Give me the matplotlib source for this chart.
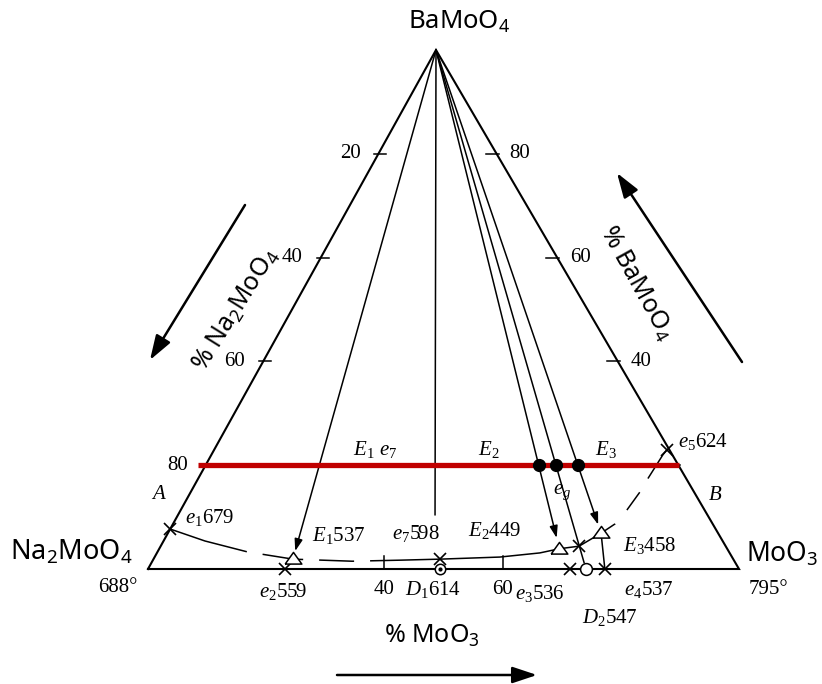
import numpy as np
import matplotlib.pyplot as plt

plt.rcParams['font.family'] = ['Noto Sans', 'DejaVu Sans']
plt.rcParams['mathtext.fontset'] = 'custom'
plt.rcParams['mathtext.rm'] = 'Liberation Serif'
plt.rcParams['mathtext.it'] = 'Liberation Serif:italic'
plt.rcParams['mathtext.default'] = 'regular'
plt.rcParams['lines.scale_dashes'] = False

# compositions: mol % MoO3 and mol % BaMoO4 (the rest is Na2MoO4)
# binary eutectics e1..e5, e7 and e8 (printed as e_g)
eut_sub = ['1', '2', '3', '4', '5', '7', 'g']
eut_mo = [0.0, 23.2, 71.4, 77.3, 76.6, 48.5, 70.8]
eut_ba = [7.7, 0.0, 0.0, 0.0, 22.9, 1.9, 4.4]
eut_temp = ['679', '559', '536', '537', '624', '598', '']

# ternary eutectics E1..E3
tern_sub = ['1', '2', '3']
tern_mo = [23.6, 67.7, 73.3]
tern_ba = [1.9, 3.9, 6.9]
tern_temp = ['537', '449', '458']

# compounds D1, D2 on the Na2MoO4-MoO3 side
comp_sub = ['1', '2']
comp_mo = [49.4, 74.1]
comp_temp = ['614', '547']

# valley e1 -> E1 -> e7 -> E2 -> e8 -> E3
valley_mo = [0.0, 7.0, 15.2, 23.6, 33.8, 41.8, 48.5, 58.4, 64.8, 67.7, 70.8, 73.3]
valley_ba = [7.7, 5.4, 3.3, 1.9, 1.5, 1.7, 1.9, 2.3, 3.1, 3.9, 4.4, 6.9]
# branch E3 -> e5
branch_mo = [73.3, 74.8, 75.5, 76.0, 76.1, 76.4, 76.6]
branch_ba = [6.9, 8.7, 11.4, 14.8, 17.5, 22.0, 22.9]

# BaMoO4-D1 join, drawn down to this point only
join_end_mo, join_end_ba = 43.5, 10.4

ba_ticks = [20, 40, 60, 80]
mo_ticks = [40, 60]
section_ba = 20  # red isopleth

melt_na = '688°'
melt_mo = '795°'

# corners of the triangle on the page (pixels)
corner_na = (148, 569)
corner_mo = (739, 569)
corner_ba = (436, 50)


def to_xy(mo, ba):
    mo = np.asarray(mo, float) / 100
    ba = np.asarray(ba, float) / 100
    na = 1 - mo - ba
    x = na * corner_na[0] + mo * corner_mo[0] + ba * corner_ba[0]
    y = na * corner_na[1] + mo * corner_mo[1] + ba * corner_ba[1]
    return x, y


fig = plt.figure(figsize=(8.22, 6.84), dpi=100)
ax = fig.add_axes([0, 0, 1, 1])
ax.set_xlim(0, 822)
ax.set_ylim(684, 0)
ax.axis('off')

serif = dict(family='Liberation Serif', fontsize=15, color='black')

# triangle
tx, ty = to_xy([0, 100, 0, 0], [0, 0, 100, 0])
ax.plot(tx, ty, color='black', lw=1.5, solid_joinstyle='miter', zorder=2)

# side ticks
for b in ba_ticks:
    lx, ly = to_xy(0, b)
    rx, ry = to_xy(100 - b, b)
    ax.plot([lx - 4, lx + 8], [ly, ly], color='black', lw=1.1)
    ax.plot([rx - 11, rx + 2], [ry, ry], color='black', lw=1.1)
    ax.text(lx - 18, ly, str(100 - b), ha='right', va='center', **serif)
    if b > section_ba:
        ax.text(rx + 13, ry, str(b), ha='left', va='center', **serif)

# bottom ticks
for m in mo_ticks:
    bx, by = to_xy(m, 0)
    ax.plot([bx, bx], [by, by - 13], color='black', lw=1.1)
    ax.text(bx, by + 21, str(m), ha='center', va='center', **serif)

# joins from the BaMoO4 corner
apex = tuple(to_xy(0, 100))


def join(mo, ba, arrow, shrink):
    style = '-|>,head_length=0.6,head_width=0.2' if arrow else '-'
    ax.annotate('', xy=tuple(to_xy(mo, ba)), xytext=apex,
                arrowprops=dict(arrowstyle=style, color='black', lw=1.1,
                                shrinkA=0, shrinkB=shrink, mutation_scale=12))


join(tern_mo[0], tern_ba[0], True, 6)
join(join_end_mo, join_end_ba, False, 0)
join(tern_mo[1], tern_ba[1], True, 8)
join(comp_mo[1], 0, False, 4.5)
join(tern_mo[2], tern_ba[2], True, 6.5)
ex3, ey3 = to_xy([tern_mo[2], eut_mo[3]], [tern_ba[2], eut_ba[3]])
ax.plot(ex3, ey3, color='black', lw=1.1)

# boundary curves
vx, vy = to_xy(valley_mo, valley_ba)
ax.plot(vx, vy, color='black', lw=1.1,
        dashes=(57.6, 11.5, 29.5, 11.5, 25.2, 11.5, 2000, 1))
bx, by = to_xy(branch_mo, branch_ba)
ax.plot(bx, by, color='black', lw=1.1, dashes=(12.2, 13, 15.8, 11.5, 72, 1))

# red section line
rlx, rly = to_xy(0, section_ba)
rrx, rry = to_xy(100 - section_ba, section_ba)
ax.plot([rlx - 8, rrx + 1], [rly, rry], color='#c00000', lw=3.8,
        solid_capstyle='butt', zorder=4)

# crossings of the joins with the section
cross_mo = []
for m, b in [(tern_mo[1], tern_ba[1]), (comp_mo[1], 0), (tern_mo[2], tern_ba[2])]:
    cross_mo.append(m * (100 - section_ba) / (100 - b))
sx, sy = to_xy(cross_mo, [section_ba] * 3)
ax.plot(sx, sy, ls='none', marker='o', ms=8.5, color='black', zorder=6)

# markers
ex, ey = to_xy(eut_mo, eut_ba)
ax.plot(ex, ey, ls='none', marker='x', ms=8.5, mew=1.2, color='black', zorder=5)
tri = [(-1, -0.55), (1, -0.55), (0, 0.85), (-1, -0.55)]
qx, qy = to_xy(tern_mo, tern_ba)
ax.plot(qx, qy, ls='none', marker=tri, ms=12, mfc='white', mec='black',
        mew=1.1, zorder=5)
cx, cy = to_xy(comp_mo, [0, 0])
ax.plot(cx[0], cy[0], marker='o', ms=7.5, mfc='white', mec='black', mew=1.1, zorder=5)
ax.plot(cx[0], cy[0], marker='o', ms=2, color='black', zorder=6)
ax.plot(cx[1], cy[1], marker='o', ms=8.5, mfc='white', mec='black', mew=1.1, zorder=5)

# point labels (offsets in pixels from the point)
eut_off = [(15, -12, 'left'), (-2, 23, 'center'), (-30, 25, 'center'),
           (44, 20, 'center'), (11, -9, 'left'), (-48, -26, 'left'),
           (-17, -54, 'center')]
for i in range(len(eut_sub)):
    s = eut_sub[i] if eut_sub[i].isdigit() else r'\mathit{%s}' % eut_sub[i]
    dx, dy, ha = eut_off[i]
    ax.text(ex[i] + dx, ey[i] + dy, r'$\mathit{e}_{%s}$%s' % (s, eut_temp[i]),
            ha=ha, va='center', **serif)

tern_off = [(19, -24, 'left'), (-91, -18, 'left'), (22, 12, 'left')]
for i in range(len(tern_sub)):
    dx, dy, ha = tern_off[i]
    ax.text(qx[i] + dx, qy[i] + dy, r'$\mathit{E}_{%s}$%s' % (tern_sub[i], tern_temp[i]),
            ha=ha, va='center', **serif)

comp_off = [(-35, 21, 'left'), (24, 49, 'center')]
for i in range(len(comp_sub)):
    dx, dy, ha = comp_off[i]
    ax.text(cx[i] + dx, cy[i] + dy, r'$\mathit{D}_{%s}$%s' % (comp_sub[i], comp_temp[i]),
            ha=ha, va='center', **serif)

# labels along the section
ax.text(353, 450, r'$\mathit{E}_1$ $\mathit{e}_7$', ha='left', va='center', **serif)
ax.text(489, 450, r'$\mathit{E}_2$', ha='center', va='center', **serif)
ax.text(606, 450, r'$\mathit{E}_3$', ha='center', va='center', **serif)
ax.text(rlx - 47, rly + 29, r'$\mathit{A}$', ha='center', va='center', **serif)
ax.text(rrx + 37, rry + 30, r'$\mathit{B}$', ha='center', va='center', **serif)

# corner labels
ax.text(118, 588, melt_na, ha='center', va='center', **serif)
ax.text(768, 590, melt_mo, ha='center', va='center', **serif)
ax.text(459, 22, 'BaMoO$_4$', ha='center', va='center', fontsize=18.5)
ax.text(132, 552, 'Na$_2$MoO$_4$', ha='right', va='center', fontsize=19.5)
ax.text(746, 554, 'MoO$_3$', ha='left', va='center', fontsize=19)

# axis titles and arrows
ax.text(432, 636, '% MoO$_3$', ha='center', va='center', fontsize=18)
ax.text(236, 310, '% Na$_2$MoO$_4$', rotation=58, rotation_mode='anchor',
        ha='center', va='center', fontsize=18)
ax.text(636, 283, '% BaMoO$_4$', rotation=-61, rotation_mode='anchor',
        ha='center', va='center', fontsize=18)

big = dict(arrowstyle='-|>,head_length=0.75,head_width=0.25', color='black',
           lw=1.8, mutation_scale=20, shrinkA=0, shrinkB=0)
ax.annotate('', xy=(150, 360), xytext=(245, 205), arrowprops=big)
ax.annotate('', xy=(617, 173), xytext=(742, 362), arrowprops=big)
ax.annotate('', xy=(537, 675), xytext=(337, 675), arrowprops=big)

fig.savefig('out.png', dpi=100)
